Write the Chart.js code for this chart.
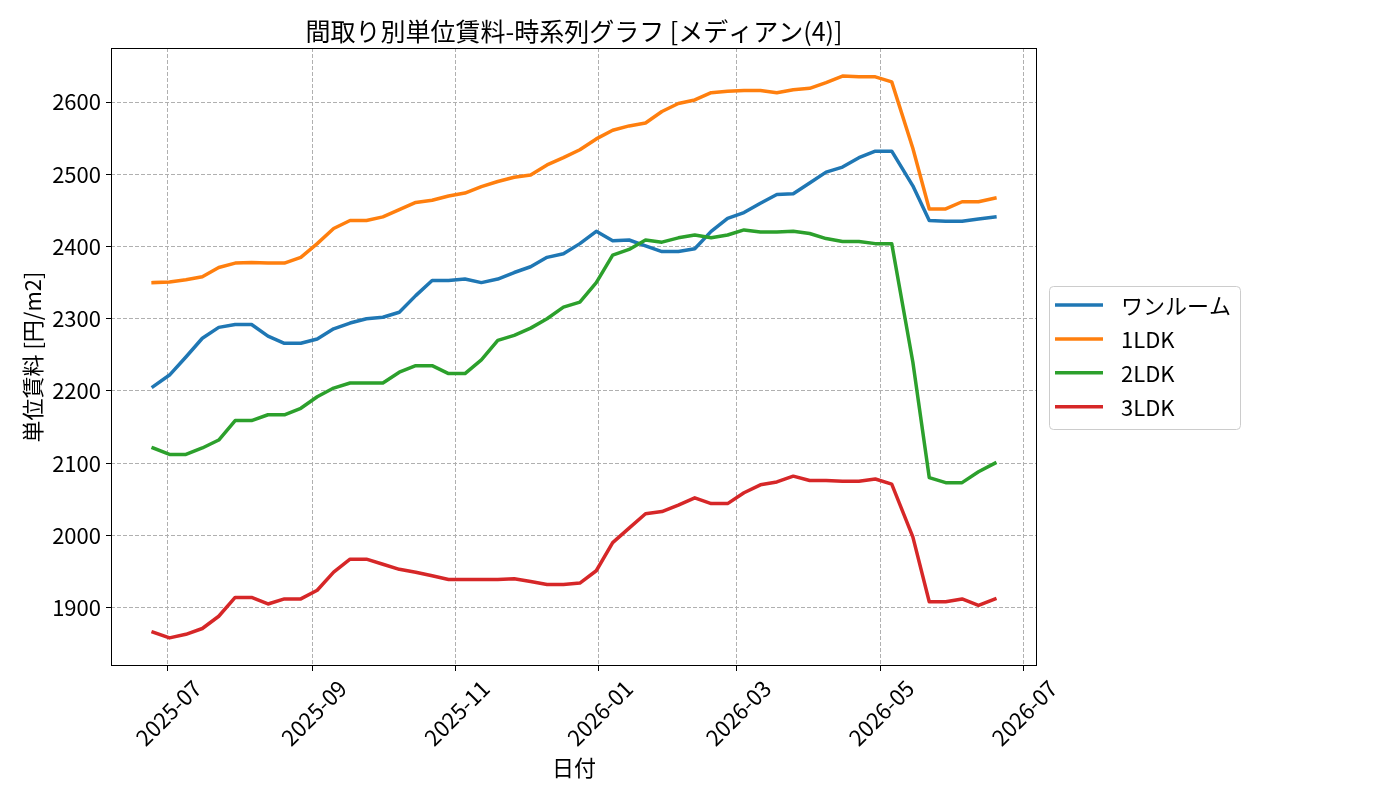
<!DOCTYPE html>
<html lang="ja">
<head>
<meta charset="UTF-8">
<title>間取り別単位賃料-時系列グラフ</title>
<script src="https://cdn.jsdelivr.net/npm/chart.js@4"></script>
<style>
  body { margin: 0; background: #fff; }
  #wrap { width: 1400px; height: 800px; }
</style>
</head>
<body>
<div id="wrap"><canvas id="rentChart" width="1400" height="800"></canvas></div>
<script>
// 週次の集計日
const dates = [
  '2025-06-25', '2025-07-02', '2025-07-09', '2025-07-16', '2025-07-23', '2025-07-30',
  '2025-08-06', '2025-08-13', '2025-08-20', '2025-08-27', '2025-09-03', '2025-09-10',
  '2025-09-17', '2025-09-24', '2025-10-01', '2025-10-08', '2025-10-15', '2025-10-22',
  '2025-10-29', '2025-11-05', '2025-11-12', '2025-11-19', '2025-11-26', '2025-12-03',
  '2025-12-10', '2025-12-17', '2025-12-24', '2025-12-31', '2026-01-07', '2026-01-14',
  '2026-01-21', '2026-01-28', '2026-02-04', '2026-02-11', '2026-02-18', '2026-02-25',
  '2026-03-04', '2026-03-11', '2026-03-18', '2026-03-25', '2026-04-01', '2026-04-08',
  '2026-04-15', '2026-04-22', '2026-04-29', '2026-05-06', '2026-05-15', '2026-05-22',
  '2026-05-29', '2026-06-05', '2026-06-12', '2026-06-19'
];

const oneRoom = [
  2206, 2222, 2247, 2273, 2288, 2292, 2292, 2276, 2266, 2266, 2272, 2286, 2294,
  2300, 2302, 2309, 2332, 2353, 2353, 2355, 2350, 2355, 2364, 2372, 2385, 2390,
  2404, 2421, 2408, 2409, 2401, 2393, 2393, 2397, 2421, 2439, 2447, 2460, 2472,
  2473, 2488, 2503, 2510, 2523, 2532, 2532, 2484, 2436, 2435, 2435, 2438, 2441
];
const ldk1 = [
  2350, 2351, 2354, 2358, 2371, 2377, 2378, 2377, 2377, 2385, 2404, 2425, 2436,
  2436, 2441, 2451, 2461, 2464, 2470, 2474, 2483, 2490, 2496, 2499, 2513, 2523,
  2534, 2549, 2561, 2567, 2571, 2587, 2598, 2603, 2613, 2615, 2616, 2616, 2613,
  2617, 2619, 2627, 2636, 2635, 2635, 2628, 2536, 2452, 2452, 2462, 2462, 2467
];
const ldk2 = [
  2121, 2112, 2112, 2121, 2132, 2159, 2159, 2167, 2167, 2176, 2192, 2204, 2211,
  2211, 2211, 2226, 2235, 2235, 2224, 2224, 2243, 2270, 2277, 2287, 2300, 2316,
  2323, 2350, 2388, 2396, 2409, 2406, 2412, 2416, 2412, 2416, 2423, 2420, 2420,
  2421, 2418, 2411, 2407, 2407, 2404, 2404, 2240, 2080, 2073, 2073, 2088, 2100
];
const ldk3 = [
  1866, 1858, 1863, 1871, 1888, 1914, 1914, 1905, 1912, 1912, 1924, 1949, 1967,
  1967, 1960, 1953, 1949, 1944, 1939, 1939, 1939, 1939, 1940, 1936, 1932, 1932,
  1934, 1951, 1990, 2010, 2030, 2033, 2042, 2052, 2044, 2044, 2059, 2070, 2074,
  2082, 2076, 2076, 2075, 2075, 2078, 2071, 1998, 1908, 1908, 1912, 1903, 1912
];

const seriesNames = ['ワンルーム', '1LDK', '2LDK', '3LDK'];
const seriesColors = ['#1f77b4', '#ff7f0e', '#2ca02c', '#d62728'];
const xTickLabels = ['2025-07', '2025-09', '2025-11', '2026-01', '2026-03', '2026-05', '2026-07'];
const yTicks = [1900, 2000, 2100, 2200, 2300, 2400, 2500, 2600];

const FONT = '"Noto Sans CJK JP", "Noto Sans", sans-serif';
Chart.defaults.font.family = FONT;
Chart.defaults.color = '#000';

const xs = dates.map(d => Date.parse(d));
const allSeries = [oneRoom, ldk1, ldk2, ldk3];

// matplotlib風の5%マージン
const xSpan = xs[xs.length - 1] - xs[0];
const xMin = xs[0] - xSpan * 0.05;
const xMax = xs[xs.length - 1] + xSpan * 0.05;
const allVals = allSeries.flat();
const vLo = Math.min(...allVals), vHi = Math.max(...allVals);
const yMin = vLo - (vHi - vLo) * 0.05;
const yMax = vHi + (vHi - vLo) * 0.05;

const datasets = allSeries.map((vals, i) => ({
  label: seriesNames[i],
  data: vals.map((v, j) => ({ x: xs[j], y: v })),
  borderColor: seriesColors[i],
  backgroundColor: seriesColors[i],
  borderWidth: 3.5,
  borderJoinStyle: 'round',
  borderCapStyle: 'square',
  pointRadius: 0,
  tension: 0,
  order: allSeries.length - 1 - i   // 後の系列を上に描く
}));

// 枠線と凡例
const framePlugin = {
  id: 'frameAndLegend',
  afterDatasetsDraw(chart) {
    const { ctx, chartArea: a } = chart;
    ctx.save();
    ctx.strokeStyle = '#000';
    ctx.lineWidth = 1;
    const l = Math.round(a.left) + 0.5, t = Math.round(a.top) + 0.5;
    const r = Math.round(a.right) - 0.5, b = Math.round(a.bottom) - 0.5;
    ctx.strokeRect(l, t, r - l, b - t);
    ctx.restore();
  },
  afterDraw(chart) {
    const { ctx, chartArea: a } = chart;
    const bx = a.right + 12, by = 286, bw = 191, bh = 143;
    ctx.save();
    ctx.fillStyle = 'rgba(255,255,255,0.8)';
    ctx.strokeStyle = '#cccccc';
    ctx.lineWidth = 1;
    ctx.beginPath();
    ctx.roundRect(bx + 0.5, by + 0.5, bw, bh, 4);
    ctx.fill();
    ctx.stroke();
    ctx.font = '22px ' + FONT;
    ctx.textBaseline = 'middle';
    chart.data.datasets.forEach((ds, i) => {
      const y = by + 19 + i * 33.9;
      ctx.strokeStyle = ds.borderColor;
      ctx.lineWidth = ds.borderWidth;
      ctx.beginPath();
      ctx.moveTo(bx + 6, y);
      ctx.lineTo(bx + 54, y);
      ctx.stroke();
      ctx.fillStyle = '#000';
      ctx.fillText(ds.label, bx + 72, y + 1);
    });
    ctx.restore();
  }
};

new Chart(document.getElementById('rentChart'), {
  type: 'line',
  data: { datasets },
  plugins: [framePlugin],
  options: {
    responsive: false,
    animation: false,
    layout: { padding: { top: 0, right: 363, bottom: 0, left: 0 } },
    plugins: {
      legend: { display: false },
      tooltip: { enabled: false },
      title: {
        display: true,
        fullSize: false,
        text: '間取り別単位賃料-時系列グラフ [メディアン(4)]',
        font: { size: 25, weight: 'normal' },
        color: '#000',
        padding: { top: 16, bottom: 2 }
      }
    },
    scales: {
      x: {
        type: 'linear',
        min: xMin,
        max: xMax,
        afterBuildTicks: s => { s.ticks = xTickLabels.map(l => ({ value: Date.parse(l + '-01') })); },
        afterFit: s => { s.height = 134; },
        ticks: {
          autoSkip: false,
          minRotation: 45,
          maxRotation: 45,
          labelOffset: 30,
          padding: 4,
          font: { size: 22 },
          callback: v => new Date(v).toISOString().slice(0, 7)
        },
        grid: { color: '#b0b0b0', lineWidth: 1, tickLength: 5, tickColor: '#000', tickWidth: 1 },
        border: { display: false, dash: [4, 2] },
        title: { display: true, text: '日付', font: { size: 22 }, padding: { top: 0, bottom: 19 } }
      },
      y: {
        min: yMin,
        max: yMax,
        afterBuildTicks: s => { s.ticks = yTicks.map(v => ({ value: v })); },
        afterFit: s => { s.width = 111; },
        ticks: {
          padding: 5,
          font: { size: 22 },
          callback: v => String(v)
        },
        grid: { color: '#b0b0b0', lineWidth: 1, tickLength: 5, tickColor: '#000', tickWidth: 1 },
        border: { display: false, dash: [4, 2] },
        title: { display: true, text: '単位賃料 [円/m2]', font: { size: 22 }, padding: { top: 19, bottom: 0 } }
      }
    }
  }
});
</script>
</body>
</html>
